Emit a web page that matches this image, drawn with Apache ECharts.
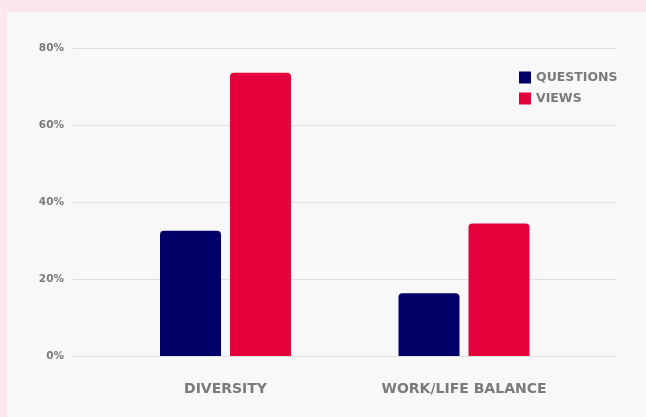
<!DOCTYPE html>
<html>
<head>
<meta charset="utf-8">
<script src="https://cdn.jsdelivr.net/npm/echarts@6/dist/echarts.min.js"></script>
<style>
html,body{margin:0;padding:0;background:#fce8ec;}
#wrap{position:relative;width:646px;height:417px;background:#fce8ec;overflow:hidden;}
#chart{position:absolute;left:7px;top:12px;width:639px;height:405px;background:#f8f8f8;}
</style>
</head>
<body>
<div id="wrap"><div id="chart"></div></div>
<script>
const categories = ['DIVERSITY', 'WORK/LIFE BALANCE'];
const seriesNames = ['QUESTIONS', 'VIEWS'];
const questions = [32.6, 16.3];
const views = [73.7, 34.5];
const yTicks = [0, 20, 40, 60, 80];

const FONT = '"DejaVu Sans", sans-serif';
const GRAY = '#7a7a7a';
const chart = echarts.init(document.getElementById('chart'), null, {renderer: 'canvas'});
chart.setOption({
  animation: false,
  backgroundColor: '#f8f8f8',
  textStyle: {fontFamily: FONT},
  legend: {
    orient: 'vertical', left: 512, top: 59, padding: 0,
    itemWidth: 12, itemHeight: 12, itemGap: 8,
    icon: 'rect',
    data: seriesNames,
    textStyle: {color: GRAY, fontWeight: 'bold', fontSize: 12.5, fontFamily: FONT}
  },
  grid: [
    {left: 99.25, right: 62.75, top: 36.5, bottom: 61, containLabel: false},
    {left: 66, right: 29, top: 36.5, bottom: 61, containLabel: false}
  ],
  xAxis: [
    {type: 'category', gridIndex: 0, data: categories,
     axisLine: {show: false}, axisTick: {show: false},
     axisLabel: {color: GRAY, fontWeight: 'bold', fontSize: 14, margin: 26, fontFamily: FONT}},
    {type: 'value', gridIndex: 1, show: false, min: 0, max: 1}
  ],
  yAxis: [
    {type: 'value', gridIndex: 0, min: yTicks[0], max: yTicks[yTicks.length-1], interval: 20, show: false},
    {type: 'value', gridIndex: 1, min: yTicks[0], max: yTicks[yTicks.length-1], interval: 20,
     axisLine: {show: false}, axisTick: {show: false},
     splitLine: {lineStyle: {color: '#e0e0e0', width: 1}},
     axisLabel: {color: GRAY, fontWeight: 'bold', fontSize: 10.5, margin: 9, fontFamily: FONT,
                 formatter: v => v + '%'}}
  ],
  series: [
    {name: seriesNames[0], type: 'bar', xAxisIndex: 0, yAxisIndex: 0, data: questions,
     barWidth: 61, barGap: '14.75%', itemStyle: {color: '#000066', borderRadius: [4,4,0,0]}},
    {name: seriesNames[1], type: 'bar', xAxisIndex: 0, yAxisIndex: 0, data: views,
     barWidth: 61, barGap: '14.75%', itemStyle: {color: '#e4003a', borderRadius: [4,4,0,0]}}
  ]
});
</script>
</body>
</html>
